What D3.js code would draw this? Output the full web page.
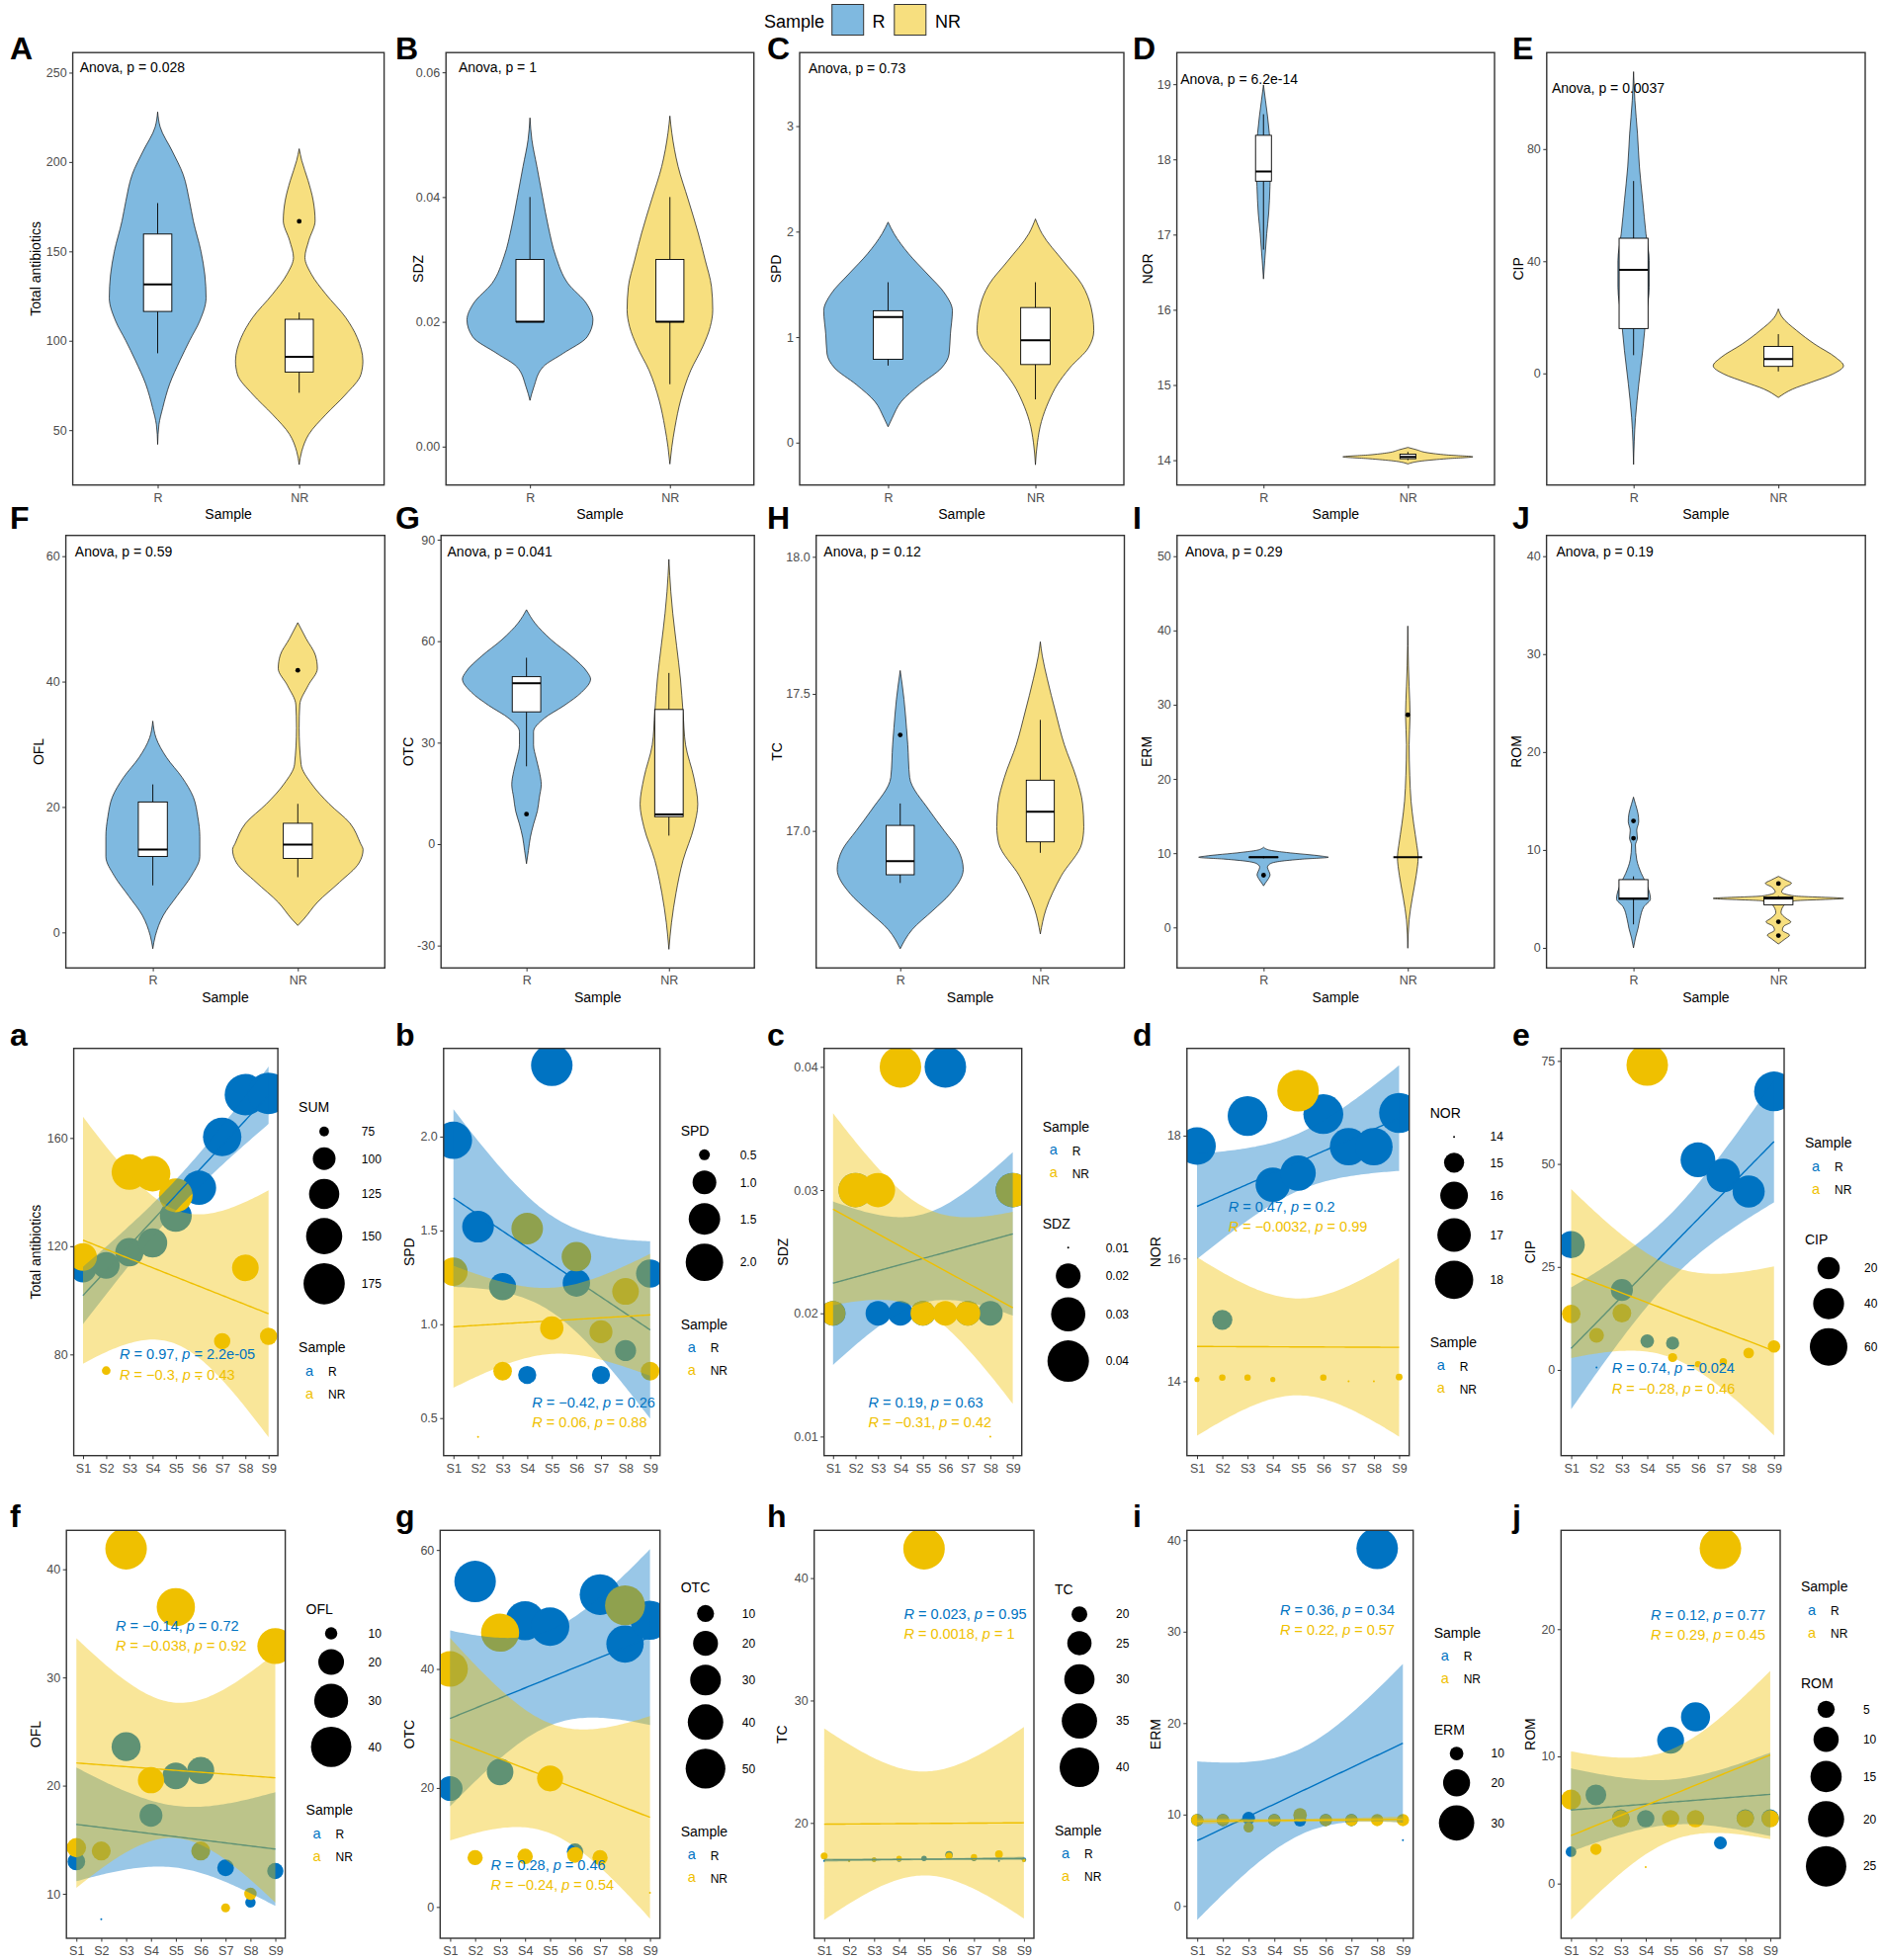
<!DOCTYPE html>
<html><head><meta charset="utf-8">
<script src="https://cdn.jsdelivr.net/npm/d3@7"></script>
<style>body{margin:0;background:#fff}</style>
</head><body>
<svg id="c" width="1904" height="1983" xmlns="http://www.w3.org/2000/svg"></svg>
<script>
// ===================== DATA =====================
const groups = ["R", "NR"];
const samples = ["S1","S2","S3","S4","S5","S6","S7","S8","S9"];

// ---- violin panels (A-J)
const violinLetters = ["A","B","C","D","E","F","G","H","I","J"];
const violinVars = ["Total antibiotics","SDZ","SPD","NOR","CIP","OFL","OTC","TC","ERM","ROM"];
const anovaP = ["0.028","1","0.73","6.2e-14","0.0037","0.59","0.041","0.12","0.29","0.19"];
const anovaY = [250, 0.06, 3.5, 19, 100, 60, 85, 18, 50, 40];
const violinTicks = [[50,100,150,200,250],[0,0.02,0.04,0.06],[0,1,2,3],[14,15,16,17,18,19],[0,40,80],
  [0,20,40,60],[-30,0,30,60,90],[17,17.5,18],[0,10,20,30,40,50],[0,10,20,30,40]];
const violinTickLabels = [["50","100","150","200","250"],["0.00","0.02","0.04","0.06"],["0","1","2","3"],
  ["14","15","16","17","18","19"],["0","40","80"],["0","20","40","60"],["-30","0","30","60","90"],
  ["17.0","17.5","18.0"],["0","10","20","30","40","50"],["0","10","20","30","40"]];
const violinDomains = [[19.3,261.2],[-0.00616,0.06316],[-0.402,3.697],[13.67,19.42],[-39.8,114.4],
  [-5.67,63.31],[-36.62,91.27],[16.5,18.078],[-5.46,52.8],[-2.05,42.12]];
// density profiles: [value, relative half width]
const violinProfileR = [
  [[228,0],[219.5,.04],[206,.23],[193,.40],[178,.50],[167,.56],[150,.68],[137,.74],[124,.76],[111,.66],[100,.50],[89,.35],[76,.19],[62.5,.08],[53,.02],[42,0]],
  [[.0527,0],[.0492,.03],[.0449,.11],[.04,.2],[.0353,.29],[.0305,.41],[.0262,.6],[.0229,.9],[.0203,1],[.0176,.91],[.0149,.52],[.0128,.21],[.0095,.06],[.0074,0]],
  [[2.09,0],[1.98,.09],[1.79,.31],[1.60,.59],[1.41,.86],[1.25,.97],[1.03,.94],[.84,.92],[.71,.81],[.55,.48],[.39,.2],[.23,.06],[.15,0]],
  [[18.99,0],[18.79,.03],[18.35,.09],[17.99,.11],[17.64,.10],[17.28,.08],[17.01,.05],[16.66,.02],[16.41,0]],
  [[107.6,0],[97.4,.02],[85.5,.06],[73.6,.09],[61.7,.14],[49.8,.19],[40.2,.24],[30.7,.24],[20,.19],[8.1,.14],[-3.8,.08],[-15.7,.03],[-32.5,0]],
  [[33.7,0],[31,.05],[27.9,.21],[24.7,.45],[21.6,.62],[18.4,.69],[15.3,.72],[12.1,.72],[9,.59],[5.8,.37],[2.7,.16],[-.5,.04],[-2.6,0]],
  [[69.3,0],[65.4,.13],[60.5,.38],[55.6,.70],[50.8,.95],[48.8,1],[44.9,.86],[41,.59],[37.1,.27],[33.2,.11],[29.3,.11],[25.4,.15],[21.5,.2],[17.6,.23],[13.7,.2],[9.8,.17],[5.9,.11],[2,.06],[-1.9,.03],[-5.8,0]],
  [[17.585,0],[17.48,.06],[17.375,.10],[17.315,.12],[17.195,.15],[17.075,.46],[17.0,.70],[16.93,.92],[16.86,1],[16.77,.79],[16.71,.52],[16.64,.19],[16.57,0]],
  [[10.8,0],[10.4,.1],[10.1,.35],[9.6,.9],[9.45,1],[9.2,.6],[8.9,.25],[8.5,.09],[8.1,.06],[7.6,.08],[7.1,.1],[6.5,.07],[6.0,.03],[5.6,0]],
  [[15.4,0],[14.7,.03],[13.7,.07],[12.9,.08],[12.0,.05],[11.2,.06],[10.5,.03],[9.0,.05],[7.6,.12],[6.5,.2],[5.0,.26],[4.2,.16],[3.0,.1],[2.0,.07],[1.0,.03],[0,0]]
];
const violinProfileNR = [
  [[207.4,0],[200.8,.04],[189.6,.14],[178.4,.22],[167.2,.25],[156,.15],[146.6,.09],[137.3,.19],[126,.42],[113,.73],[101.8,.91],[88.7,1],[81.2,.97],[70,.73],[58.8,.42],[47.6,.15],[38.2,.04],[30.7,0]],
  [[.053,0],[.0503,.03],[.0449,.13],[.0396,.29],[.0342,.45],[.0299,.56],[.0256,.66],[.0219,.68],[.0192,.64],[.016,.52],[.0122,.33],[.0074,.17],[.0031,.08],[-.0001,.03],[-.0028,0]],
  [[2.12,0],[1.98,.1],[1.72,.42],[1.5,.7],[1.28,.84],[1.06,.88],[.9,.8],[.71,.52],[.55,.33],[.39,.2],[.2,.09],[0,.03],[-.21,0]],
  [[14.17,0],[14.14,.13],[14.10,.30],[14.07,.60],[14.045,1],[14.02,.6],[13.99,.22],[13.95,0]],
  [[23,0],[20,.06],[15.3,.28],[10.4,.56],[5.7,.88],[2.7,1],[-.2,.84],[-3.2,.5],[-5.6,.22],[-8.6,0]],
  [[49.4,0],[46.8,.13],[44.2,.27],[42.1,.30],[39.4,.16],[36.3,.03],[32.6,.02],[26.8,.05],[23.7,.21],[20.5,.48],[17.4,.80],[14.2,.96],[13.2,1],[11.1,.94],[8,.64],[4.8,.30],[2.1,.09],[1.1,0]],
  [[84.2,0],[74.6,.03],[68.3,.06],[58.6,.12],[48.8,.18],[39.1,.22],[29.3,.26],[19.6,.39],[11.8,.45],[5,.39],[-4.8,.22],[-14.5,.11],[-23.3,.04],[-31.1,0]],
  [[17.69,0],[17.64,.03],[17.555,.11],[17.435,.24],[17.315,.38],[17.195,.57],[17.1,.67],[17.015,.69],[16.955,.66],[16.835,.33],[16.714,.09],[16.624,0]],
  [[40.6,0],[35.2,.01],[32.5,.02],[28.6,.035],[24.6,.02],[20.5,.03],[17,.05],[14,.09],[11,.14],[9.5,.16],[7,.13],[4,.07],[1,.02],[-2.8,0]],
  [[7.3,0],[6.9,.12],[6.6,.2],[6.2,.1],[5.7,.05],[5.3,.25],[5.05,1],[4.8,.25],[4.3,.08],[3.6,.04],[3.0,.12],[2.65,.19],[2.2,.08],[1.8,.06],[1.3,.17],[0.9,.1],[0.4,0]]
];
// box stats [lower whisker, Q1, median, Q3, upper whisker]
const boxR = [[93,116.4,131.5,159.7,177],[0.02,0.02,0.02,0.03,0.04],[0.73,0.79,1.19,1.25,1.52],
  [16.8,17.71,17.84,18.32,18.6],[6.5,16,36.9,48.2,68.6],[7.5,12.1,13.2,20.8,23.6],[23,39.1,47.6,49.5,55.1],
  [16.81,16.84,16.89,17.02,17.1],[9.3,9.4,9.45,9.5,9.6],[2.4,4.95,5.05,6.97,7.3]];
const boxNR = [[70.9,82.5,91,112,115.8],[0.01,0.02,0.02,0.03,0.04],[0.41,0.74,0.97,1.28,1.52],
  [14.0,14.02,14.045,14.08,14.11],[0.7,2.5,5.1,9.6,14],[8.8,11.8,14.0,17.4,20.5],[2.5,8.1,8.8,39.8,50.6],
  [16.92,16.96,17.07,17.185,17.405],[9.45,9.45,9.45,9.45,9.45],[4.4,4.4,5.05,5.2,5.3]];
const outR = [[],[],[],[],[],[],[8.85],[17.35],[7.03],[11.2,12.96]];
const outNR = [[166.8],[],[],[],[],[41.8],[],[],[28.63],[6.57,2.67,1.25]];

// ---- scatter panels (a-j)
const scatterLetters = ["a","b","c","d","e","f","g","h","i","j"];
const scatterVars = ["Total antibiotics","SPD","SDZ","NOR","CIP","OFL","OTC","TC","ERM","ROM"];
const sizeTitles = ["SUM","SPD","SDZ","NOR","CIP","OFL","OTC","TC","ERM","ROM"];
const valuesR = [
  [111.5,112.9,117.8,121.2,131.2,141.6,160.4,176,176.5],
  [1.98,1.52,1.20,0.73,2.38,1.22,0.73,0.86,1.27],
  [0.02,0.03,0.02,0.02,0.02,0.04,0.02,0.02,0.03],
  [17.83,15.0,18.32,17.2,17.39,18.35,17.82,17.82,18.37],
  [30.4,0.6,19.4,7.0,6.5,51,47.2,43.3,67.6],
  [12.98,7.65,23.6,17.25,20.9,21.4,12.4,9.2,12.1],
  [19.9,54.7,22.7,48.1,47.1,9.3,52.5,44.2,48.2],
  [16.9,16.9,17.0,17.0,17.1,17.4,17.1,16.9,17.0],
  [9.4,9.4,9.6,9.4,9.35,9.4,9.4,39.1,7.2],
  [2.5,6.97,5.15,5.1,11.27,13.1,3.2,5.15,5.15]
];
const valuesNR = [
  [116,74,147.4,146.8,138.8,71,84.9,112,86.7],
  [1.28,0.40,0.75,1.51,0.98,1.36,0.96,1.175,0.75],
  [0.02,0.03,0.03,0.04,0.02,0.02,0.02,0.01,0.03],
  [14.03,14.06,14.06,14.03,18.73,14.06,14.0,14.0,14.07],
  [13.6,8.4,13.8,74,3.0,1.4,2.0,4.1,5.7],
  [14.26,13.96,41.9,20.5,36.5,13.96,8.7,10.0,32.9],
  [40,8.3,46.1,8.5,21.6,8.75,8.3,50.7,2.4],
  [17.3,16.9,17.0,17.1,42.4,17.3,17.2,17.45,16.95],
  [9.4,9.4,8.6,9.4,9.96,9.4,9.4,9.4,9.4],
  [6.6,2.7,5.1,1.3,5.1,5.1,26.35,5.1,5.1]
];
const corR = [["0.97","2.2e-05"],["\u22120.42","0.26"],["0.19","0.63"],["0.47","0.2"],["0.74","0.024"],
  ["\u22120.14","0.72"],["0.28","0.46"],["0.023","0.95"],["0.36","0.34"],["0.12","0.77"]];
const corNR = [["\u22120.3","0.43"],["0.06","0.88"],["\u22120.31","0.42"],["\u22120.0032","0.99"],["\u22120.28","0.46"],
  ["\u22120.038","0.92"],["\u22120.24","0.54"],["0.0018","1"],["0.22","0.57"],["0.29","0.45"]];
const ciLevel = [0.95,0.8,0.8,0.8,0.8,0.8,0.8,0.8,0.8,0.8];
const sizeBreaks = [[75,100,125,150,175],[0.5,1.0,1.5,2.0],[0.01,0.02,0.03,0.04],[14,15,16,17,18],[20,40,60],
  [10,20,30,40],[10,20,30,40,50],[20,25,30,35,40],[10,20,30],[5,10,15,20,25]];
const sizeBreakLabels = [["75","100","125","150","175"],["0.5","1.0","1.5","2.0"],["0.01","0.02","0.03","0.04"],
  ["14","15","16","17","18"],["20","40","60"],["10","20","30","40"],["10","20","30","40","50"],
  ["20","25","30","35","40"],["10","20","30"],["5","10","15","20","25"]];
const sizeLegendFirst = [true,true,false,true,false,true,true,true,false,false];
const scatterTicks = [[80,120,160],[0.5,1.0,1.5,2.0],[0.01,0.02,0.03,0.04],[14,16,18],[0,25,50,75],
  [10,20,30,40],[0,20,40,60],[20,30,40],[0,10,20,30,40],[0,10,20]];
const scatterTickLabels = [["80","120","160"],["0.5","1.0","1.5","2.0"],["0.01","0.02","0.03","0.04"],
  ["14","16","18"],["0","25","50","75"],["10","20","30","40"],["0","20","40","60"],["20","30","40"],
  ["0","10","20","30","40"],["0","10","20"]];
const scatterDomains = [[42.6,193.1],[0.30,2.47],[0.00845,0.0415],[12.79,19.42],[-20.8,78.04],
  [5.89,43.6],[-5.26,63.3],[10.58,43.9],[-3.53,41.08],[-4.3,27.77]];

// ===================== LAYOUT / STYLE =====================
const FONT = "'Liberation Sans', Arial, Helvetica, sans-serif";
const BLUE = "#0073C2", YEL = "#EFC000", VBLUE = "#7FB9E0", VYEL = "#F7DF7F";
const LAY = {
  violinX: [[73.6,388.6],[451.2,762.7],[809,1137],[1190.6,1512],[1564.8,1887],
            [66.6,389.3],[446.2,763.2],[825.7,1137.5],[1190.8,1511.8],[1564.6,1887.2]],
  violinY: [[53.2,490.7],[541.7,979.3]],
  violinTitleX: [36,423,785,1160.5,1536,38.6,412.5,786.4,1159.7,1534],
  anovaX: [0.45,0.49,0.46,0.425,0.435,0.463,0.444,0.454,0.456,0.467],
  boxWidth: [0.2,0.2,0.2,0.11,0.2,0.2,0.2,0.2,0.2,0.2],
  scatterX: [[74.6,281.1],[448.8,667.7],[833.7,1033.7],[1200.8,1425.7],[1579.3,1805],
             [67.2,288.6],[445.3,667.7],[823.7,1046],[1200.8,1429.7],[1579.3,1801]],
  scatterY: [[1060.7,1472.7],[1548.3,1961]],
  scatterTitleX: [36,414,791.7,1169,1548,36,414,791,1169,1547.5],
  corPos: [[.225,.763],[.409,.881],[.224,.881],[.186,.40],[.228,.798],[.225,.246],[.23,.832],[.408,.2166],[.411,.2066],[.409,.2186]],
  letterX: [10,400,776,1146,1530],
  letterBase: [60,535,1058,1545]
};
const T_QUANT = {0.95: 2.3646, 0.8: 1.4149}; // t quantiles, df = 7

const svg = d3.select("#c").attr("font-family", FONT);
const defs = svg.append("defs");

function styleAxis(g){
  g.attr("font-family", FONT).attr("font-size", 12.5);
  g.select(".domain").remove();
  g.selectAll(".tick line").attr("stroke","#333").attr("stroke-width",1);
  g.selectAll(".tick text").attr("fill","#4D4D4D");
}
function clip(id, x0, y0, x1, y1){
  defs.append("clipPath").attr("id", id).append("rect")
    .attr("x", x0).attr("y", y0).attr("width", x1-x0).attr("height", y1-y0);
  return `url(#${id})`;
}
function yTitle(txt, cx, cy){
  svg.append("text").attr("transform", `translate(${cx+5},${cy}) rotate(-90)`)
    .attr("text-anchor","middle").attr("font-size",14).attr("fill","#000").text(txt);
}
function letter(txt, x, y){
  svg.append("text").attr("x", x).attr("y", y).attr("font-size", 32).attr("font-weight","bold").text(txt);
}

// ===================== VIOLIN PANELS =====================
function violinPanel(k){
  const row = k < 5 ? 0 : 1;
  const [x0,x1] = LAY.violinX[k], [y0,y1] = LAY.violinY[row];
  const x = d3.scalePoint().domain(groups).range([x0,x1]).padding(0.6);
  const step = x.step();
  const y = d3.scaleLinear().domain(violinDomains[k]).range([y1,y0]);
  const g = svg.append("g").attr("clip-path", clip("vc"+k, x0, y0, x1, y1));
  groups.forEach((grp, gi) => {
    const prof = (gi ? violinProfileNR : violinProfileR)[k];
    const cx = x(grp), mh = 0.45*step;
    const area = d3.area().curve(d3.curveMonotoneY)
      .y(d => y(d[0])).x0(d => cx - d[1]*mh).x1(d => cx + d[1]*mh);
    g.append("path").attr("d", area(prof)).attr("fill", gi ? VYEL : VBLUE)
      .attr("stroke","#111").attr("stroke-width",0.7);
    const s = (gi ? boxNR : boxR)[k], bw = LAY.boxWidth[k]*step;
    g.append("line").attr("x1",cx).attr("x2",cx).attr("y1",y(s[0])).attr("y2",y(s[1])).attr("stroke","#000").attr("stroke-width",0.9);
    g.append("line").attr("x1",cx).attr("x2",cx).attr("y1",y(s[3])).attr("y2",y(s[4])).attr("stroke","#000").attr("stroke-width",0.9);
    g.append("rect").attr("x",cx-bw/2).attr("y",y(s[3])).attr("width",bw).attr("height",Math.max(0,y(s[1])-y(s[3])))
      .attr("fill","#fff").attr("stroke","#000").attr("stroke-width",0.9);
    g.append("line").attr("x1",cx-bw/2).attr("x2",cx+bw/2).attr("y1",y(s[2])).attr("y2",y(s[2])).attr("stroke","#000").attr("stroke-width",2);
    (gi ? outNR : outR)[k].forEach(v => g.append("circle").attr("cx",cx).attr("cy",y(v)).attr("r",2.4).attr("fill","#000"));
  });
  svg.append("rect").attr("x",x0).attr("y",y0).attr("width",x1-x0).attr("height",y1-y0)
    .attr("fill","none").attr("stroke","#333").attr("stroke-width",1.4);
  const ay = svg.append("g").attr("transform",`translate(${x0},0)`)
    .call(d3.axisLeft(y).tickValues(violinTicks[k]).tickFormat((d,i)=>violinTickLabels[k][i]).tickSize(3.5).tickPadding(2.5));
  styleAxis(ay);
  const ax = svg.append("g").attr("transform",`translate(0,${y1})`)
    .call(d3.axisBottom(x).tickSize(3.5).tickPadding(4.5));
  styleAxis(ax);
  svg.append("text").attr("x",(x0+x1)/2).attr("y",y1+34.3).attr("text-anchor","middle").attr("font-size",14).text("Sample");
  yTitle(violinVars[k], LAY.violinTitleX[k], (y0+y1)/2);
  svg.append("text").attr("x", x0 + (LAY.anovaX[k]-0.4)*step).attr("y", y(anovaY[k]))
    .attr("font-size",14).text("Anova, p = " + anovaP[k]);
  letter(violinLetters[k], LAY.letterX[k%5], LAY.letterBase[row]);
}

// ===================== SCATTER PANELS =====================
function lmBand(vals, level){
  const xs = d3.range(1, vals.length+1), n = vals.length;
  const xb = d3.mean(xs), yb = d3.mean(vals);
  const Sxx = d3.sum(xs, v => (v-xb)**2);
  const Sxy = d3.sum(xs, (v,i) => (v-xb)*(vals[i]-yb));
  const b = Sxy/Sxx, a = yb - b*xb;
  const s = Math.sqrt(d3.sum(xs, (v,i) => (vals[i]-(a+b*v))**2)/(n-2));
  const t = T_QUANT[level];
  return d3.range(0, 81).map(j => {
    const xv = 1 + j*(n-1)/80, f = a + b*xv;
    const se = s*Math.sqrt(1/n + (xv-xb)**2/Sxx);
    return {x: xv, f, lo: f - t*se, hi: f + t*se};
  });
}

function corLabel(g, x, y, pair, color){
  const t = g.append("text").attr("x",x).attr("y",y).attr("font-size",14.5).attr("fill",color);
  t.append("tspan").attr("font-style","italic").text("R");
  t.append("tspan").text(" = " + pair[0] + ", ");
  t.append("tspan").attr("font-style","italic").text("p");
  t.append("tspan").text(" = " + pair[1]);
}

function scatterPanel(k){
  const row = k < 5 ? 0 : 1;
  const [x0,x1] = LAY.scatterX[k], [y0,y1] = LAY.scatterY[row];
  const x = d3.scaleLinear().domain([0.6, 9.4]).range([x0,x1]);
  const y = d3.scaleLinear().domain(scatterDomains[k]).range([y1,y0]);
  const all = valuesR[k].concat(valuesNR[k]);
  const mn = d3.min(all), mx = d3.max(all);
  const dia = d3.scaleSqrt().domain([0, mx-mn]).range([2, 42]).clamp(true);
  const g = svg.append("g").attr("clip-path", clip("sc"+k, x0, y0, x1, y1));
  [[valuesR[k], BLUE],[valuesNR[k], YEL]].forEach(([vals, col]) => {
    g.selectAll(null).data(vals).enter().append("circle")
      .attr("cx",(d,i)=>x(i+1)).attr("cy",d=>y(d)).attr("r",d=>dia(d-mn)/2).attr("fill",col);
  });
  [[valuesR[k], BLUE],[valuesNR[k], YEL]].forEach(([vals, col]) => {
    const band = lmBand(vals, ciLevel[k]);
    g.append("path").attr("d", d3.area().x(d=>x(d.x)).y0(d=>y(d.lo)).y1(d=>y(d.hi))(band))
      .attr("fill", col).attr("fill-opacity", 0.4);
    g.append("path").attr("d", d3.line().x(d=>x(d.x)).y(d=>y(d.f))(band))
      .attr("fill","none").attr("stroke",col).attr("stroke-width",1.4);
  });
  svg.append("rect").attr("x",x0).attr("y",y0).attr("width",x1-x0).attr("height",y1-y0)
    .attr("fill","none").attr("stroke","#333").attr("stroke-width",1.4);
  const ay = svg.append("g").attr("transform",`translate(${x0},0)`)
    .call(d3.axisLeft(y).tickValues(scatterTicks[k]).tickFormat((d,i)=>scatterTickLabels[k][i]).tickSize(3.5).tickPadding(2.5));
  styleAxis(ay);
  const ax = svg.append("g").attr("transform",`translate(0,${y1})`)
    .call(d3.axisBottom(x).tickValues(d3.range(1,10)).tickFormat(d=>samples[d-1]).tickSize(3.5).tickPadding(4.5));
  styleAxis(ax);
  yTitle(scatterVars[k], LAY.scatterTitleX[k], (y0+y1)/2);
  const [px, py] = LAY.corPos[k];
  const lx = x0 + px*(x1-x0), ly = y0 + py*(y1-y0);
  corLabel(svg, lx, ly, corR[k], BLUE);
  corLabel(svg, lx, ly + 20.5, corNR[k], YEL);
  letter(scatterLetters[k], LAY.letterX[k%5], LAY.letterBase[row+2]);

  // ---- legends
  const br = sizeBreaks[k];
  const dias = br.map(b => dia(Math.max(0, b-mn)));
  const rowsH = dias.map(d => Math.max(d+9, 23));
  const sizeH = 22 + d3.sum(rowsH), sampH = 22 + 46, gap = 30;
  const total = sizeH + gap + sampH;
  let top = (y0+y1)/2 - total/2;
  const lx0 = x1 + 21;
  const drawSize = (t0) => {
    svg.append("text").attr("x",lx0).attr("y",t0+14).attr("font-size",14).text(sizeTitles[k]);
    const keyW = d3.max(dias) + 10;
    let yy = t0 + 22;
    br.forEach((b, i) => {
      const c = yy + rowsH[i]/2;
      svg.append("circle").attr("cx", lx0 + keyW/2).attr("cy", c).attr("r", dias[i]/2).attr("fill","#000");
      svg.append("text").attr("x", lx0 + keyW + 12).attr("y", c + 4.3).attr("font-size",12).text(sizeBreakLabels[k][i]);
      yy += rowsH[i];
    });
  };
  const drawSample = (t0) => {
    svg.append("text").attr("x",lx0).attr("y",t0+14).attr("font-size",14).text("Sample");
    groups.forEach((grp, i) => {
      const c = t0 + 22 + 11.5 + i*23;
      svg.append("text").attr("x", lx0 + 11).attr("y", c + 4).attr("text-anchor","middle")
        .attr("font-size",14.5).attr("fill", i ? YEL : BLUE).text("a");
      svg.append("text").attr("x", lx0 + 30).attr("y", c + 4.3).attr("font-size",12).text(grp);
    });
  };
  if (sizeLegendFirst[k]) { drawSize(top); drawSample(top + sizeH + gap); }
  else { drawSample(top); drawSize(top + sampH + gap); }
}

// ===================== TOP LEGEND =====================
function topLegend(){
  svg.append("text").attr("x",773).attr("y",28).attr("font-size",18).text("Sample");
  svg.append("rect").attr("x",841.7).attr("y",4.5).attr("width",32).attr("height",31).attr("fill",VBLUE).attr("stroke","#333");
  svg.append("text").attr("x",882.5).attr("y",28).attr("font-size",18).text(groups[0]);
  svg.append("rect").attr("x",904.8).attr("y",4.5).attr("width",32).attr("height",31).attr("fill",VYEL).attr("stroke","#333");
  svg.append("text").attr("x",946).attr("y",28).attr("font-size",18).text(groups[1]);
}

d3.range(10).forEach(violinPanel);
d3.range(10).forEach(scatterPanel);
topLegend();
</script>
</body></html>
